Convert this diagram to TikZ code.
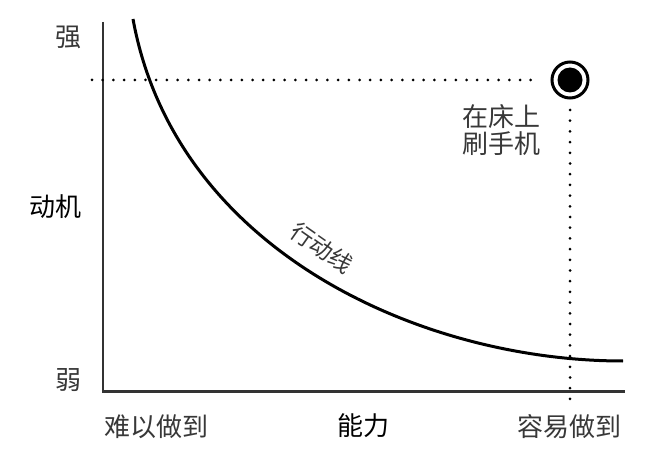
\documentclass[tikz,border=0pt]{standalone}
\usepackage{fontspec}
\newfontfamily\cjk{Noto Sans CJK SC}
\begin{document}
\begin{tikzpicture}[x=1pt,y=-1pt,
  lbl/.style={font=\cjk\fontsize{26}{30}\selectfont, text=black!78, inner sep=0pt},
  axlbl/.style={font=\cjk\fontsize{26}{30}\selectfont, text=black, inner sep=0pt},
  axisline/.style={draw=black!80, line width=2.2pt},
  dotline/.style={draw=black, line width=3pt, line cap=round, dash pattern=on 0pt off 10.7pt},
  curveline/.style={draw=black, line width=3pt}]
\useasboundingbox (0,0) rectangle (662,468);
% axes
\coordinate (ytop) at (103,22);
\coordinate (origin) at (103,391.5);
\coordinate (xend) at (625,391.5);
\draw[axisline] (ytop) -- (origin) -- (xend);
% dotted guides
\coordinate (hstart) at (92,80);
\coordinate (hend) at (541,80);
\coordinate (vstart) at (570,110);
\coordinate (vend) at (570,403);
\draw[dotline] (hstart) -- (hend);
\draw[dotline] (vstart) -- (vend);
% curve
\coordinate (cstart) at (133,19);
\coordinate (cend) at (623,361);
\draw[curveline] (cstart) .. controls (175,250) and (420,361) .. (cend);
% point
\node[circle, draw=black, line width=3pt, minimum size=36pt, inner sep=0pt] (pt) at (570,80) {};
\fill[black] (pt.center) circle[radius=12.5pt];
% labels
\node[lbl] (strong) at (69,37) {强};
\node[lbl] (weak) at (68,380) {弱};
\node[axlbl] (motiv) at (55,207) {动机};
\node[lbl] (hard) at (156,427) {难以做到};
\node[axlbl] (abil) at (363,426) {能力};
\node[lbl] (easy) at (569,427) {容易做到};
\node[lbl, align=center] (phone) at (501,130) {在床上\\[-3pt]刷手机};
\node[lbl, font=\cjk\fontsize{23}{26}\selectfont, rotate=-35] (act) at (322,248) {行动线};
\end{tikzpicture}
\end{document}
